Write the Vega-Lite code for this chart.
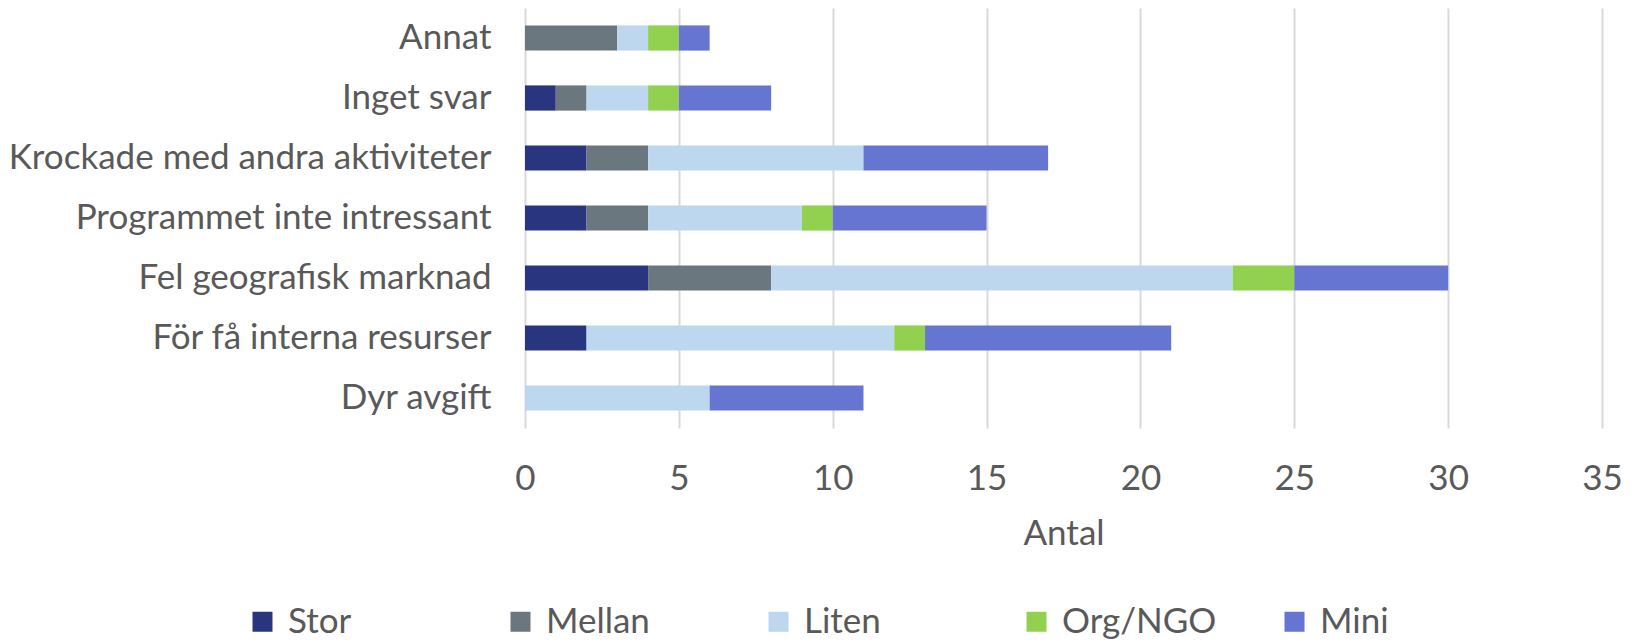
{
  "$schema": "https://vega.github.io/schema/vega-lite/v6.json",
  "autosize": {"type": "none"},
  "width": 1077,
  "height": 420,
  "padding": {"left": 525, "top": 8, "right": 35, "bottom": 216},
  "background": "white",
  "config": {"view": {"stroke": null}, "font": "Lato"},
  "data": {"values": [
    {"cat": "Annat", "typ": "Stor", "k": 1, "v": 0},
    {"cat": "Annat", "typ": "Mellan", "k": 2, "v": 3},
    {"cat": "Annat", "typ": "Liten", "k": 3, "v": 1},
    {"cat": "Annat", "typ": "Org/NGO", "k": 4, "v": 1},
    {"cat": "Annat", "typ": "Mini", "k": 5, "v": 1},
    {"cat": "Inget svar\u2005", "typ": "Stor", "k": 1, "v": 1},
    {"cat": "Inget svar\u2005", "typ": "Mellan", "k": 2, "v": 1},
    {"cat": "Inget svar\u2005", "typ": "Liten", "k": 3, "v": 2},
    {"cat": "Inget svar\u2005", "typ": "Org/NGO", "k": 4, "v": 1},
    {"cat": "Inget svar\u2005", "typ": "Mini", "k": 5, "v": 3},
    {"cat": "Krockade med andra aktiviteter", "typ": "Stor", "k": 1, "v": 2},
    {"cat": "Krockade med andra aktiviteter", "typ": "Mellan", "k": 2, "v": 2},
    {"cat": "Krockade med andra aktiviteter", "typ": "Liten", "k": 3, "v": 7},
    {"cat": "Krockade med andra aktiviteter", "typ": "Org/NGO", "k": 4, "v": 0},
    {"cat": "Krockade med andra aktiviteter", "typ": "Mini", "k": 5, "v": 6},
    {"cat": "Programmet inte intressant\u2005", "typ": "Stor", "k": 1, "v": 2},
    {"cat": "Programmet inte intressant\u2005", "typ": "Mellan", "k": 2, "v": 2},
    {"cat": "Programmet inte intressant\u2005", "typ": "Liten", "k": 3, "v": 5},
    {"cat": "Programmet inte intressant\u2005", "typ": "Org/NGO", "k": 4, "v": 1},
    {"cat": "Programmet inte intressant\u2005", "typ": "Mini", "k": 5, "v": 5},
    {"cat": "Fel geografisk marknad", "typ": "Stor", "k": 1, "v": 4},
    {"cat": "Fel geografisk marknad", "typ": "Mellan", "k": 2, "v": 4},
    {"cat": "Fel geografisk marknad", "typ": "Liten", "k": 3, "v": 15},
    {"cat": "Fel geografisk marknad", "typ": "Org/NGO", "k": 4, "v": 2},
    {"cat": "Fel geografisk marknad", "typ": "Mini", "k": 5, "v": 5},
    {"cat": "För få interna resurser", "typ": "Stor", "k": 1, "v": 2},
    {"cat": "För få interna resurser", "typ": "Mellan", "k": 2, "v": 0},
    {"cat": "För få interna resurser", "typ": "Liten", "k": 3, "v": 10},
    {"cat": "För få interna resurser", "typ": "Org/NGO", "k": 4, "v": 1},
    {"cat": "För få interna resurser", "typ": "Mini", "k": 5, "v": 8},
    {"cat": "Dyr avgift", "typ": "Stor", "k": 1, "v": 0},
    {"cat": "Dyr avgift", "typ": "Mellan", "k": 2, "v": 0},
    {"cat": "Dyr avgift", "typ": "Liten", "k": 3, "v": 6},
    {"cat": "Dyr avgift", "typ": "Org/NGO", "k": 4, "v": 0},
    {"cat": "Dyr avgift", "typ": "Mini", "k": 5, "v": 5}
  ]},
  "mark": {"type": "bar"},
  "encoding": {
    "y": {
      "field": "cat", "type": "nominal",
      "sort": ["Annat", "Inget svar\u2005", "Krockade med andra aktiviteter", "Programmet inte intressant\u2005", "Fel geografisk marknad", "För få interna resurser", "Dyr avgift"],
      "scale": {"paddingInner": 0.58, "paddingOuter": 0.29},
      "axis": {"title": null, "domain": false, "ticks": false, "labelFontSize": 35, "labelColor": "#595959", "labelPadding": 34, "labelLimit": 600}
    },
    "x": {
      "field": "v", "type": "quantitative", "stack": "zero",
      "scale": {"domain": [0, 35], "nice": false},
      "axis": {"title": "Antal", "values": [0, 5, 10, 15, 20, 25, 30, 35], "domain": false, "ticks": false, "grid": true, "gridColor": "#D9D9D9", "gridWidth": 2,
        "labelFlush": false,
        "labelFontSize": 35, "labelColor": "#595959", "labelPadding": 33, "labelFontWeight": "normal",
        "titleFontSize": 35, "titleColor": "#595959", "titleFontWeight": "normal", "titlePadding": 20}
    },
    "color": {
      "field": "typ", "type": "nominal",
      "scale": {"domain": ["Stor", "Mellan", "Liten", "Org/NGO", "Mini"], "range": ["#2A3580", "#6B777E", "#BDD7EE", "#92D050", "#6675D2"]},
      "legend": {"title": null, "orient": "none", "legendX": -280, "legendY": 596, "direction": "horizontal", "columns": 5, "gridAlign": "all",
        "symbolType": "square", "symbolSize": 400, "symbolStrokeWidth": 0, "labelFontSize": 35, "labelColor": "#595959", "columnPadding": 60, "labelOffset": 8, "labelLimit": 300}
    },
    "order": {"field": "k", "type": "quantitative"}
  }
}
